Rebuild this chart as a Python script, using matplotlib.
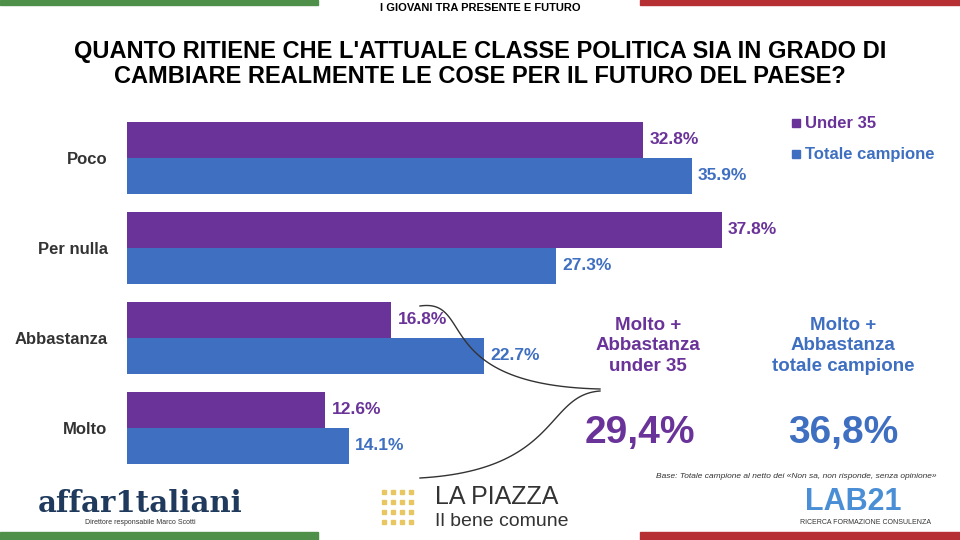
import matplotlib
matplotlib.use("Agg")
import matplotlib.pyplot as plt
import numpy as np

plt.rcParams['font.family'] = ['Liberation Sans', 'DejaVu Sans']

categories = ["Poco", "Per nulla", "Abbastanza", "Molto"]
under35 = [32.8, 37.8, 16.8, 12.6]
totale = [35.9, 27.3, 22.7, 14.1]
series_names = ["Under 35", "Totale campione"]
PURPLE = "#6a3399"
BLUE = "#3f6fc0"

W, H = 960, 540
fig = plt.figure(figsize=(9.6, 5.4), dpi=100)
def fx(x): return x / W
def fy(y): return 1 - y / H

ax = fig.add_axes([fx(127), fy(473), fx(15.73 * 50), (473 - 113) / H])
y = np.arange(len(categories))
ax.barh(y - 0.2, under35, height=0.4, color=PURPLE)
ax.barh(y + 0.2, totale, height=0.4, color=BLUE)
for i in range(len(categories)):
    ax.text(under35[i] + 0.4, i - 0.2, f"{under35[i]:.1f}%", va="center", ha="left",
            color=PURPLE, fontsize=12.5, fontweight="bold")
    ax.text(totale[i] + 0.4, i + 0.2, f"{totale[i]:.1f}%", va="center", ha="left",
            color=BLUE, fontsize=12.5, fontweight="bold")
ax.set_xlim(0, 50)
ax.set_ylim(3.5, -0.5)
ax.set_yticks(y)
ax.set_yticklabels(categories, fontsize=12, fontweight="bold", color="#333333")
ax.tick_params(axis="y", length=0, pad=14)
ax.set_xticks([])
for s in ax.spines.values():
    s.set_visible(False)

# legend
fig.patches.append(plt.Rectangle((fx(792), fy(127)), 8 / W, 8 / H, color=PURPLE, transform=fig.transFigure))
fig.text(fx(805), fy(123), series_names[0], color=PURPLE, fontsize=12, fontweight="bold", va="center")
fig.patches.append(plt.Rectangle((fx(792), fy(158)), 8 / W, 8 / H, color=BLUE, transform=fig.transFigure))
fig.text(fx(805), fy(154), series_names[1], color=BLUE, fontsize=12, fontweight="bold", va="center")

# header / footer bars
fig.patches.append(plt.Rectangle((0, fy(5)), fx(318), 5 / H, color="#4e8f4a", transform=fig.transFigure))
fig.patches.append(plt.Rectangle((fx(640), fy(5)), fx(320), 5 / H, color="#b62f33", transform=fig.transFigure))
fig.patches.append(plt.Rectangle((0, 0), fx(318), 8 / H, color="#4e8f4a", transform=fig.transFigure))
fig.patches.append(plt.Rectangle((fx(640), 0), fx(320), 8 / H, color="#b62f33", transform=fig.transFigure))
fig.text(0.5, fy(8), "I GIOVANI TRA PRESENTE E FUTURO", ha="center", va="center", fontsize=8, fontweight="bold")
fig.text(0.5, fy(64), "QUANTO RITIENE CHE L'ATTUALE CLASSE POLITICA SIA IN GRADO DI\nCAMBIARE REALMENTE LE COSE PER IL FUTURO DEL PAESE?",
         ha="center", va="center", fontsize=17, fontweight="bold", linespacing=1.1)

# curly bracket (smooth)
def bez(p0, p1, p2, p3, n=60):
    t = np.linspace(0, 1, n)[:, None]
    return ((1 - t) ** 3) * p0 + 3 * ((1 - t) ** 2) * t * p1 + 3 * (1 - t) * t ** 2 * p2 + t ** 3 * p3
a = bez(np.array([420, 306]), np.array([475, 298]), np.array([430, 385]), np.array([600, 389]))
b = bez(np.array([600, 391]), np.array([545, 395]), np.array([560, 470]), np.array([420, 478]))
for seg in (a, b):
    fig.add_artist(plt.Line2D(fx(seg[:, 0]), fy(seg[:, 1]), color="#333333", lw=1, transform=fig.transFigure))

fig.text(fx(648), fy(346), "Molto +\nAbbastanza\nunder 35", ha="center", va="center", color=PURPLE,
         fontsize=13.5, fontweight="bold", linespacing=1.3)
fig.text(fx(640), fy(433), "29,4%", ha="center", va="center", color=PURPLE, fontsize=28, fontweight="bold")
fig.text(fx(843), fy(346), "Molto +\nAbbastanza\ntotale campione", ha="center", va="center", color=BLUE,
         fontsize=13.5, fontweight="bold", linespacing=1.3)
fig.text(fx(843), fy(433), "36,8%", ha="center", va="center", color=BLUE, fontsize=28, fontweight="bold")
fig.text(fx(937), fy(476), "Base: Totale campione al netto dei «Non sa, non risponde, senza opinione»",
         ha="right", va="center", fontsize=6, style="italic", color="#333333")

# logos
fig.text(fx(140), fy(504), "affar1taliani", ha="center", va="center", fontsize=21, fontweight="bold",
         family="DejaVu Serif", color="#1f3a5c")
fig.text(fx(140), fy(522), "Direttore responsabile Marco Scotti", ha="center", va="center", fontsize=5, color="#333333")
for r in range(4):
    for c in range(4):
        fig.patches.append(plt.Rectangle((fx(382 + c * 9), fy(494 + r * 10)), 4 / W, 4 / H,
                                         color="#e8c662", transform=fig.transFigure))
fig.text(fx(435), fy(497), "LA PIAZZA", ha="left", va="center", fontsize=18, color="#333333")
fig.text(fx(435), fy(521), "Il bene comune", ha="left", va="center", fontsize=14, color="#333333")
fig.text(fx(805), fy(502), "LAB21", ha="left", va="center", fontsize=22, fontweight="bold", color="#4a8fd6")
fig.text(fx(800), fy(523), "RICERCA FORMAZIONE CONSULENZA", ha="left", va="center", fontsize=5, color="#333333")

fig.savefig("out.png", dpi=100)
